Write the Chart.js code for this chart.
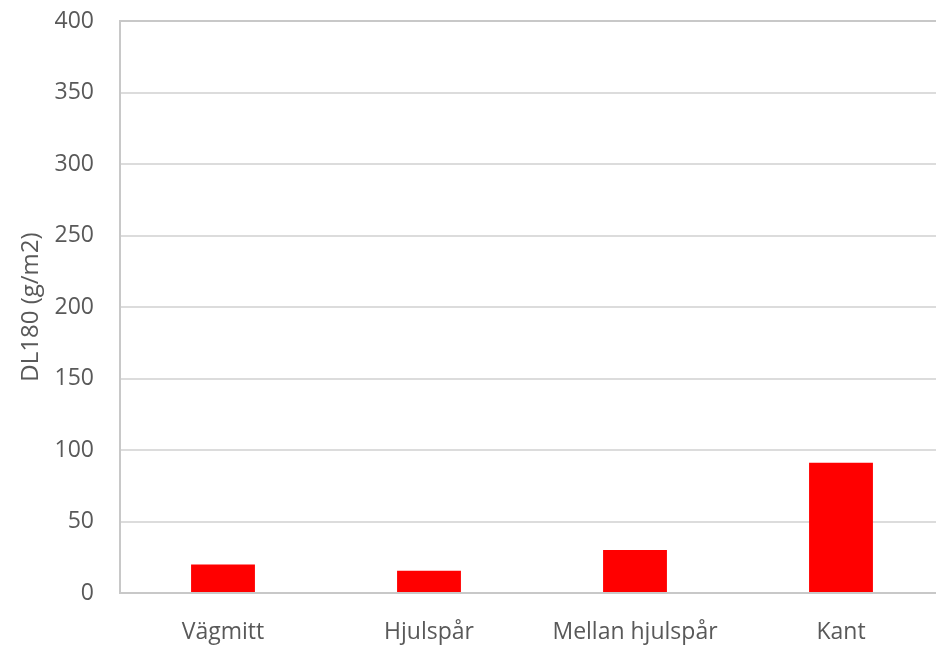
<!DOCTYPE html>
<html><head><meta charset="utf-8">
<script src="https://cdn.jsdelivr.net/npm/chart.js@4"></script>
<style>html,body{margin:0;padding:0;overflow:hidden;background:#fff;width:936px;height:646px}
#wrap{width:946px;height:646px;position:relative}</style>
</head><body>
<div id="wrap"><canvas id="c" width="946" height="646"></canvas></div>
<script>
const categories = ["Vägmitt", "Hjulspår", "Mellan hjulspår", "Kant"];
const values = [20, 15.5, 30, 91];
const yTicks = [0, 50, 100, 150, 200, 250, 300, 350, 400];
const yTitle = "DL180 (g/m2)";

const FONT = "'Open Sans', sans-serif";
new Chart(document.getElementById('c'), {
  type: 'bar',
  data: { labels: categories, datasets: [{ data: values, backgroundColor: '#ff0000', barPercentage: 0.31, categoryPercentage: 1 }] },
  options: {
    responsive: false, animation: false,
    layout: { padding: { top: 21, left: 0, right: 2, bottom: 0 } },
    plugins: { legend: { display: false }, tooltip: { enabled: false } },
    scales: {
      x: {
        grid: { display: false, drawTicks: false },
        border: { color: '#c8c8c8', width: 2 },
        ticks: { color: '#595959', font: { family: FONT, size: 23 }, padding: 26, maxRotation: 0, autoSkip: false },
        afterFit: s => { s.height = 53; s.paddingLeft = 0; s.paddingRight = 0; }
      },
      y: {
        min: 0, max: 400,
        afterBuildTicks: s => { s.ticks = yTicks.map(v => ({ value: v })); },
        grid: { color: ctx => ctx.tick && ctx.tick.value === 400 ? '#c8c8c8' : '#dcdcdc', lineWidth: 2, drawTicks: false },
        border: { color: '#c8c8c8', width: 2 },
        ticks: { color: '#595959', font: { family: FONT, size: 23 }, padding: 26 },
        title: { display: true, text: yTitle, color: '#595959', font: { family: FONT, size: 24 }, padding: { top: 17, bottom: 0 } },
        afterFit: s => { s.width = 120; s.paddingTop = 0; s.paddingBottom = 0; }
      }
    }
  }
});
</script>
</body></html>
